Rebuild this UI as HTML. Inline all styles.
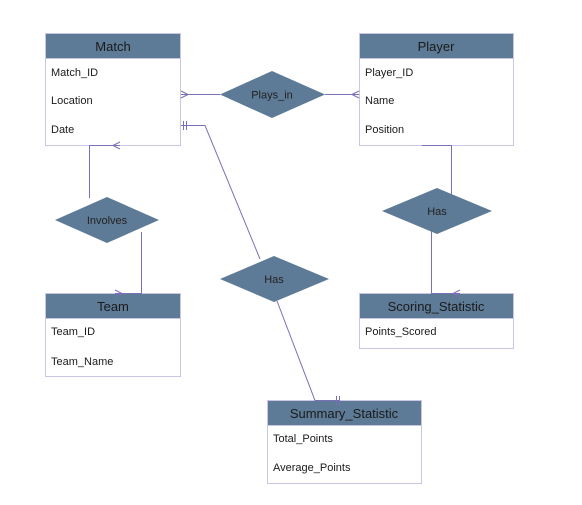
<!DOCTYPE html>
<html><head><meta charset="utf-8"><style>
html,body{margin:0;padding:0;background:#fff;}
svg{display:block;font-family:"Liberation Sans",sans-serif;}
</style></head><body>
<svg width="582" height="505" viewBox="0 0 582 505" xmlns="http://www.w3.org/2000/svg">
<!-- Entities -->
<g stroke="#c8c6e2" stroke-width="1">
<rect x="45.5" y="33.5" width="135" height="112" fill="#fff"/>
<rect x="45.5" y="33.5" width="135" height="25" fill="#5d7b96"/>
<rect x="359.5" y="33.5" width="154" height="112" fill="#fff"/>
<rect x="359.5" y="33.5" width="154" height="25" fill="#5d7b96"/>
<rect x="45.5" y="293.5" width="135" height="83" fill="#fff"/>
<rect x="45.5" y="293.5" width="135" height="25" fill="#5d7b96"/>
<rect x="359.5" y="293.5" width="154" height="55" fill="#fff"/>
<rect x="359.5" y="293.5" width="154" height="25" fill="#5d7b96"/>
<rect x="267.5" y="400.5" width="154" height="83" fill="#fff"/>
<rect x="267.5" y="400.5" width="154" height="25" fill="#5d7b96"/>
</g>
<g fill="none" stroke="#7a70b8" stroke-width="1">
<path d="M220 94.5 H181 M188 94.5 L181 91 M188 94.5 L181 98"/>
<path d="M325 94.5 H359 M352 94.5 L359 91 M352 94.5 L359 98"/>
<path d="M181 125.5 H205 L260 259"/>
<path d="M183.5 121 V130 M186.5 121 V130"/>
<path d="M277 301 L315 400.5 H340"/>
<path d="M336.5 396 V405 M339.5 396 V405"/>
<path d="M89.5 198 V145.5 H120 M113 145.5 L120 142 M113 145.5 L120 149"/>
<path d="M141.5 232 V293.5 H115 M122 293.5 L115 290 M122 293.5 L115 297"/>
<path d="M422 145.5 H451.5 V195"/>
<path d="M431.5 228 V293.5 H460 M453 293.5 L460 290 M453 293.5 L460 297"/>
</g>
<g fill="#5d7b96">
<polygon points="220,94.5 272,71 325,94.5 272,118"/>
<polygon points="55,220 107,197 159,220 107,243"/>
<polygon points="220,279 274,256 329,279 274,302"/>
<polygon points="382,211 437,188 492,211 437,234"/>
</g>
<g font-size="11" fill="#222" text-anchor="middle">
<text x="272" y="98.5">Plays_in</text>
<text x="107" y="224">Involves</text>
<text x="274" y="283">Has</text>
<text x="437" y="215">Has</text>
</g>
<g font-size="13" fill="#1a1a1a" text-anchor="middle">
<text x="113" y="51">Match</text>
<text x="436" y="51">Player</text>
<text x="113" y="311">Team</text>
<text x="436" y="311">Scoring_Statistic</text>
<text x="344" y="418">Summary_Statistic</text>
</g>
<g font-size="11" fill="#1a1a1a">
<text x="51" y="76">Match_ID</text>
<text x="51" y="104">Location</text>
<text x="51" y="133">Date</text>
<text x="365" y="76">Player_ID</text>
<text x="365" y="104">Name</text>
<text x="365" y="133">Position</text>
<text x="51" y="335">Team_ID</text>
<text x="51" y="365">Team_Name</text>
<text x="365" y="335">Points_Scored</text>
<text x="273" y="442">Total_Points</text>
<text x="273" y="471">Average_Points</text>
</g>
</svg>
</body></html>
